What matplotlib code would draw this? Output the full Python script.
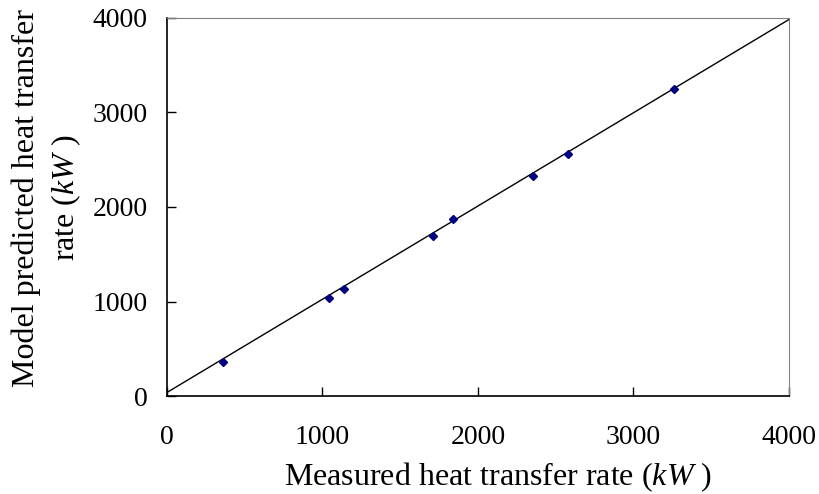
import numpy as np
import matplotlib
matplotlib.use('Agg')
import matplotlib.pyplot as plt

plt.rcParams['font.family'] = 'Liberation Serif'
plt.rcParams['mathtext.fontset'] = 'custom'
plt.rcParams['mathtext.rm'] = 'Liberation Serif'
plt.rcParams['mathtext.it'] = 'Liberation Serif:italic'

# measured vs predicted (kW)
measured = [362, 1044, 1138, 1709, 1837, 2356, 2579, 3260]
predicted = [363, 1040, 1135, 1693, 1876, 2325, 2557, 3252]

# fitted line end points
fit_x = [0, 4000]
fit_y = [40, 3980]

fig = plt.figure(figsize=(8.19, 4.94), dpi=100)
ax = fig.add_axes([0.204, 0.198, 0.759, 0.766])

ax.plot(fit_x, fit_y, color='black', lw=1.0)
ax.plot(measured, predicted, 'D', color='#000080', markersize=4.5, ls='none')

ax.set_xlim(0, 4000)
ax.set_ylim(0, 4000)
ax.set_xticks([0, 1000, 2000, 3000, 4000])
ax.set_yticks([0, 1000, 2000, 3000, 4000])
ax.tick_params(direction='in', length=6.5, width=1, labelsize=20)
ax.tick_params(axis='x', pad=21)
ax.tick_params(axis='y', pad=14)

for s in ['top', 'right']:
    ax.spines[s].set_color('#808080')
for s in ['bottom', 'left']:
    ax.spines[s].set_color('black')
    ax.spines[s].set_linewidth(1.2)

ax.set_xlabel('Measured heat transfer rate ($kW$ )', fontsize=23, labelpad=7)
ax.xaxis.label.set_x(0.532)
ax.set_ylabel('Model predicted heat transfer\nrate ($kW$ )', fontsize=23,
              linespacing=1.35)
ax.yaxis.set_label_coords(-0.135, 0.524)

fig.savefig('out.png', dpi=100)
